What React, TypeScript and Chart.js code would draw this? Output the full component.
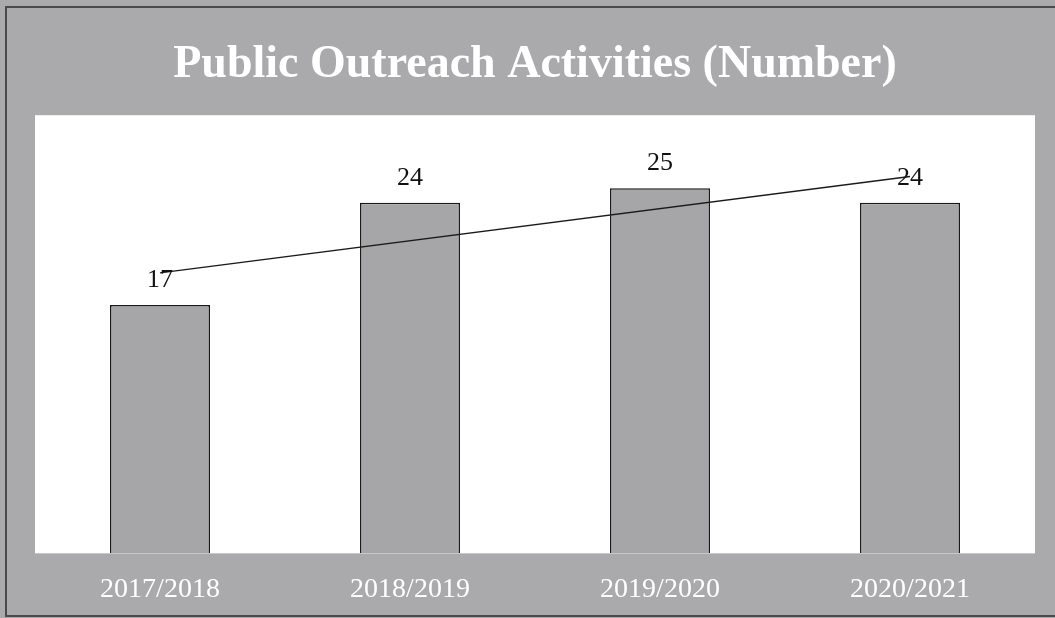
import React, { useEffect, useRef } from "react";
import { Chart, registerables } from "chart.js";

Chart.register(...registerables);

const categories = ["2017/2018", "2018/2019", "2019/2020", "2020/2021"];
const activities = [17, 24, 25, 24];
const trendValues = [19.2, null, null, 25.8];
const titleText = "Public Outreach Activities (Number)";

const BG = "#aaaaac";
const BAR = "#a6a6a9";

const framePlugin = {
  id: "frame",
  beforeDraw(chart: any) {
    const { ctx, chartArea, width, height } = chart;
    ctx.save();
    ctx.fillStyle = BG;
    ctx.fillRect(0, 0, width, height);
    ctx.fillStyle = "#ffffff";
    ctx.fillRect(chartArea.left, chartArea.top, chartArea.right - chartArea.left, chartArea.bottom - chartArea.top);
    ctx.strokeStyle = "#4a4a4a";
    ctx.lineWidth = 2;
    ctx.beginPath();
    ctx.moveTo(width, 7);
    ctx.lineTo(6, 7);
    ctx.lineTo(6, height - 2);
    ctx.lineTo(width, height - 2);
    ctx.stroke();
    ctx.strokeStyle = "#c8c8c8";
    ctx.lineWidth = 1;
    ctx.beginPath();
    ctx.moveTo(chartArea.left, chartArea.bottom + 0.5);
    ctx.lineTo(chartArea.right, chartArea.bottom + 0.5);
    ctx.stroke();
    ctx.restore();
  },
};

const labelPlugin = {
  id: "valueLabels",
  afterDatasetsDraw(chart: any) {
    const { ctx } = chart;
    const meta = chart.getDatasetMeta(0);
    ctx.save();
    ctx.fillStyle = "#111";
    ctx.font = "26px 'Liberation Serif', serif";
    ctx.textAlign = "center";
    ctx.textBaseline = "middle";
    meta.data.forEach((bar: any, i: number) => {
      ctx.fillText(String(activities[i]), bar.x, bar.y - 25);
    });
    ctx.restore();
  },
};

export default function App() {
  const ref = useRef<HTMLCanvasElement>(null);
  useEffect(() => {
    document.body.style.margin = "0";
    const chart = new Chart(ref.current!, {
      type: "bar",
      data: {
        labels: categories,
        datasets: [
          {
            type: "bar",
            data: activities,
            backgroundColor: BAR,
            borderColor: "#1a1a1a",
            borderWidth: 1.5,
            barPercentage: 0.4,
            categoryPercentage: 1,
            order: 2,
          },
          {
            type: "line",
            data: trendValues as any,
            borderColor: "#1a1a1a",
            borderWidth: 1.3,
            pointRadius: 0,
            spanGaps: true,
            fill: false,
            order: 1,
          },
        ],
      },
      options: {
        animation: false,
        responsive: false,
        layout: { padding: { left: 35, right: 20, top: 0, bottom: 0 } },
        plugins: {
          legend: { display: false },
          tooltip: { enabled: false },
          title: {
            display: true,
            text: titleText,
            color: "#ffffff",
            font: { family: "'Liberation Serif', serif", size: 46, weight: "bold" },
            padding: { top: 38, bottom: 22 },
          },
        },
        scales: {
          x: {
            grid: { display: false },
            border: { display: false },
            ticks: {
              color: "#ffffff",
              font: { family: "'Liberation Serif', serif", size: 28 },
              padding: 12,
              maxRotation: 0,
            },
            afterFit(scale: any) {
              scale.height = 65;
            },
          },
          y: {
            display: false,
            min: 0,
            max: 30,
          },
        },
      },
      plugins: [framePlugin, labelPlugin],
    });
    return () => chart.destroy();
  }, []);
  return (
    <div style={{ position: "absolute", left: 0, top: 0, width: 1055, height: 618 }}>
      <canvas ref={ref} width={1055} height={618} style={{ display: "block" }} />
    </div>
  );
}
